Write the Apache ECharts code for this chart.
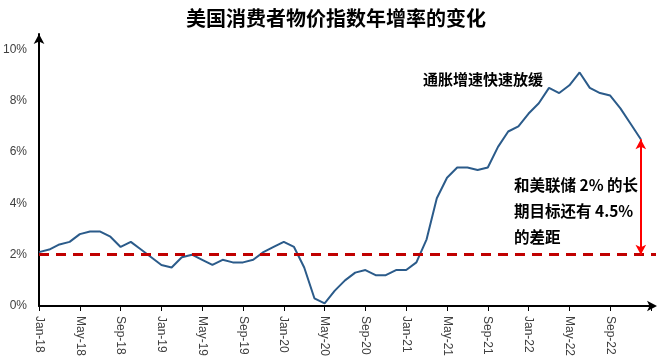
<!DOCTYPE html>
<html><head><meta charset="utf-8">
<script src="https://cdn.jsdelivr.net/npm/echarts@6/dist/echarts.min.js"></script>
<style>html,body{margin:0;padding:0;background:#fff}#c{width:672px;height:362px}</style>
</head><body><div id="c"></div>
<script>
const categories = [
 'Jan-18','Feb-18','Mar-18','Apr-18','May-18','Jun-18','Jul-18','Aug-18','Sep-18','Oct-18','Nov-18','Dec-18',
 'Jan-19','Feb-19','Mar-19','Apr-19','May-19','Jun-19','Jul-19','Aug-19','Sep-19','Oct-19','Nov-19','Dec-19',
 'Jan-20','Feb-20','Mar-20','Apr-20','May-20','Jun-20','Jul-20','Aug-20','Sep-20','Oct-20','Nov-20','Dec-20',
 'Jan-21','Feb-21','Mar-21','Apr-21','May-21','Jun-21','Jul-21','Aug-21','Sep-21','Oct-21','Nov-21','Dec-21',
 'Jan-22','Feb-22','Mar-22','Apr-22','May-22','Jun-22','Jul-22','Aug-22','Sep-22','Oct-22','Nov-22','Dec-22',
 'Jan-23'
];
const cpiYoY = [
 2.1,2.2,2.4,2.5,2.8,2.9,2.9,2.7,2.3,2.5,2.2,1.9,
 1.6,1.5,1.9,2.0,1.8,1.6,1.8,1.7,1.7,1.8,2.1,2.3,
 2.5,2.3,1.5,0.3,0.1,0.6,1.0,1.3,1.4,1.2,1.2,1.4,
 1.4,1.7,2.6,4.2,5.0,5.4,5.4,5.3,5.4,6.2,6.8,7.0,
 7.5,7.9,8.5,8.3,8.6,9.1,8.5,8.3,8.2,7.7,7.1,6.5,
 null
];
const fedTarget = 2;
const gapFrom = 'Dec-22';
const gapTop = 6.5;
const yTicks = [0,2,4,6,8,10];
const hiddenLabels = ['Jan-23'];

const chart = echarts.init(document.getElementById('c'), null, {renderer:'canvas'});
const cjk = '"Noto Sans CJK SC", sans-serif';
chart.setOption({
  animation:false,
  title:{text:'美国消费者物价指数年增率的变化', left:'center', top:3,
    textStyle:{fontFamily:cjk, fontSize:20, fontWeight:'bold', color:'#000'}},
  grid:{left:39, right:21, top:34, bottom:56, containLabel:false},
  xAxis:{type:'category', data:categories, boundaryGap:false,
    axisLine:{lineStyle:{color:'#000', width:2}, symbol:['none','arrow'], symbolSize:[8,10], symbolOffset:[0,6]},
    axisTick:{show:true, interval:3, length:5, lineStyle:{color:'#000'}},
    axisLabel:{interval:3, rotate:-90, margin:10, fontSize:12, color:'#404040', fontFamily:'"Liberation Sans", Arial, sans-serif',
      formatter:v=>hiddenLabels.includes(v)?'':v},
    splitLine:{show:false}},
  yAxis:{type:'value', min:0, max:10.6, interval:2,
    axisLine:{show:true, lineStyle:{color:'#000', width:2}, symbol:['none','arrow'], symbolSize:[8,10]},
    axisTick:{show:false}, splitLine:{show:false},
    axisLabel:{margin:12, fontSize:12, color:'#404040', fontFamily:'"Liberation Sans", Arial, sans-serif',
      showMaxLabel:false, formatter:v=>yTicks.includes(v)?v+'%':''}},
  series:[{type:'line', data:cpiYoY, symbol:'none', connectNulls:false,
    lineStyle:{color:'#2B5B8A', width:2},
    markLine:{silent:true, animation:false, data:[
      [{yAxis:fedTarget, x:39, symbol:'none', lineStyle:{color:'#C00000', width:3, type:[10,7]}},
       {yAxis:fedTarget, x:656, symbol:'none'}],
      [{coord:[gapFrom, gapTop], symbol:'arrow', symbolSize:[8,10], lineStyle:{color:'#FF0000', width:2, type:'solid'}},
       {coord:[gapFrom, fedTarget], symbol:'arrow', symbolSize:[8,10]}]
    ], label:{show:false}}
  }],
  graphic:[
    {type:'text', left:423, top:72, style:{text:'通胀增速快速放缓', fontFamily:cjk, fontSize:15, fontWeight:'bold', fill:'#000'}},
    {type:'text', left:514, top:172, style:{text:'和美联储 2% 的长\n期目标还有 4.5%\n的差距', fontFamily:cjk, fontSize:15.5, fontWeight:'bold', fill:'#000', lineHeight:26}}
  ]
});
</script></body></html>
